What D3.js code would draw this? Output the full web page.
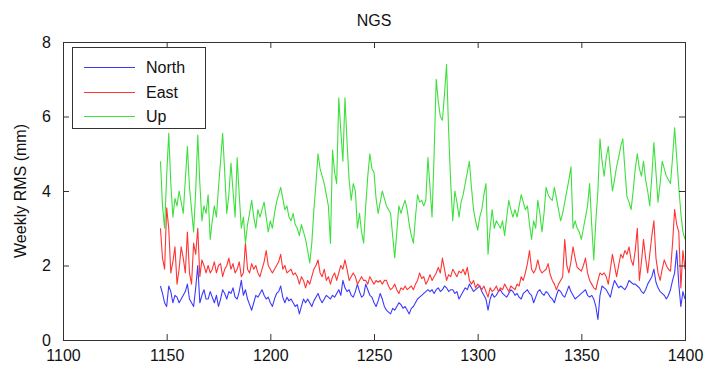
<!DOCTYPE html>
<html>
<head>
<meta charset="utf-8">
<script src="https://cdn.jsdelivr.net/npm/d3@7"></script>
<style>
  body { margin: 0; background: #fff; }
  svg { display: block; font-family: "Liberation Sans", Arial, Helvetica, sans-serif; }
</style>
</head>
<body>
<div id="chart"></div>
<script>
// weekly RMS values, one per GPS week starting at 1147
const weeks = d3.range(1147, 1401);

const north = [
  1.45,1.25,1.0,0.9,1.45,1.3,1.0,1.2,1.15,1.0,   // 1147
  1.1,1.2,1.3,1.5,1.1,1.0,0.9,1.4,2.0,1.0,       // 1157
  1.2,1.35,1.1,1.1,1.3,1.15,1.0,1.2,0.9,1.1,     // 1167
  1.35,1.25,1.1,1.3,1.25,1.4,1.15,1.1,1.3,1.6,   // 1177
  1.2,1.35,1.1,0.95,0.8,1.0,1.2,1.15,1.25,1.35,  // 1187
  1.2,1.1,1.15,1.0,0.9,1.1,1.25,1.3,1.45,1.15,   // 1197
  1.0,1.15,1.05,1.1,1.0,0.9,0.95,0.7,0.9,1.1,    // 1207
  1.0,1.1,1.0,0.9,1.05,1.15,1.25,1.1,1.0,1.1,    // 1217
  1.2,1.15,1.1,1.2,1.15,1.25,1.35,1.2,1.6,1.4,   // 1227
  1.3,1.35,1.2,1.15,1.3,1.5,1.3,1.15,1.2,1.5,    // 1237
  1.35,1.2,1.15,1.0,0.9,1.05,1.25,1.1,0.9,0.8,   // 1247
  0.75,0.7,0.85,0.8,0.9,1.0,0.95,0.85,0.9,0.8,   // 1257
  0.7,0.85,0.9,1.0,1.1,1.15,1.2,1.25,1.3,1.35,   // 1267
  1.3,1.35,1.25,1.35,1.4,1.3,1.35,1.45,1.4,1.3,  // 1277
  1.35,1.35,1.25,1.3,1.1,1.2,1.3,1.4,1.35,1.5,   // 1287
  1.4,1.3,1.35,1.4,1.45,1.3,1.2,1.1,0.8,1.1,     // 1297
  1.25,1.15,1.2,1.3,1.35,1.25,1.2,1.15,1.25,1.35,// 1307
  1.3,1.2,1.25,1.15,1.1,1.25,1.3,1.35,1.25,1.2,  // 1317
  1.0,1.15,1.3,1.35,1.25,1.2,1.3,1.25,1.15,1.1,  // 1327
  1.0,1.2,1.35,1.3,1.2,1.15,1.3,1.45,1.3,1.2,    // 1337
  1.1,1.15,1.2,1.25,1.3,1.35,1.2,1.15,1.2,1.1,   // 1347
  0.9,0.55,1.2,1.45,1.4,1.35,1.25,1.15,1.4,1.6,  // 1357
  1.5,1.4,1.45,1.4,1.35,1.45,1.6,1.55,1.5,1.5,   // 1367
  1.45,1.4,1.3,1.25,1.35,1.5,1.6,1.7,1.9,1.55,   // 1377
  1.4,1.3,1.25,1.2,1.1,1.2,1.35,1.6,1.8,2.4,     // 1387
  1.5,0.9,1.3,1.1                                // 1397
];

const east = [
  3.0,2.2,1.9,3.55,3.0,1.8,2.1,2.5,1.5,1.9,      // 1147
  2.5,2.2,1.8,2.9,1.8,1.5,2.6,2.3,3.0,1.7,       // 1157
  2.15,2.0,1.8,2.0,1.8,1.9,2.1,1.8,2.0,2.05,     // 1167
  1.7,1.9,2.0,2.2,1.9,2.05,1.8,1.9,2.1,1.7,      // 1177
  1.8,2.6,1.9,1.8,2.05,1.9,2.0,1.8,1.7,1.9,      // 1187
  2.1,2.4,2.0,1.9,1.8,1.9,2.0,2.1,2.3,1.9,       // 1197
  2.0,1.8,1.85,1.9,1.75,1.8,1.7,1.5,1.7,1.6,     // 1207
  1.4,1.6,1.5,1.7,1.9,2.0,2.15,1.8,1.7,1.9,      // 1217
  1.6,1.7,1.5,1.7,1.8,1.6,1.8,2.0,1.9,2.15,      // 1227
  1.9,1.6,1.7,1.8,1.7,1.5,1.6,1.7,1.6,1.6,       // 1237
  1.5,1.7,1.6,1.5,1.6,1.55,1.6,1.5,1.6,1.6,      // 1247
  1.45,1.35,1.4,1.5,1.35,1.25,1.4,1.35,1.45,1.35,// 1257
  1.4,1.45,1.35,1.5,1.6,1.8,1.65,1.7,1.5,1.6,    // 1267
  1.75,1.6,1.7,1.8,1.95,1.8,2.2,1.9,1.6,1.75,    // 1277
  1.7,1.9,1.8,1.7,1.85,1.8,1.9,1.75,1.95,1.6,    // 1287
  1.5,1.6,1.4,1.5,1.45,1.35,1.45,1.3,1.15,1.4,   // 1297
  1.3,1.35,1.45,1.3,1.4,1.35,1.5,1.4,1.3,1.45,   // 1307
  1.4,1.35,1.5,1.45,1.7,1.6,1.8,2.05,2.4,1.9,    // 1317
  1.8,1.9,2.15,1.9,1.8,1.85,1.9,2.05,1.75,1.6,   // 1327
  1.5,1.35,1.5,1.6,1.7,2.7,2.0,1.8,2.1,2.5,      // 1337
  2.2,1.95,1.9,1.85,2.0,2.2,1.8,1.6,1.5,1.4,     // 1347
  1.35,1.6,1.8,1.75,1.8,1.7,1.5,1.9,2.3,2.0,     // 1357
  1.7,2.0,2.3,2.2,2.4,2.3,2.5,2.15,2.0,2.4,      // 1367
  3.0,1.6,2.1,2.7,2.2,1.8,2.3,2.8,3.2,2.2,       // 1377
  1.8,1.6,1.9,2.15,2.0,1.9,1.85,2.6,3.5,3.1,     // 1387
  2.9,1.4,2.4,1.9                                // 1397
];

const up = [
  4.8,3.6,3.0,4.4,5.55,4.2,3.3,3.8,3.6,4.0,      // 1147
  3.7,3.4,4.3,5.2,4.1,3.5,2.9,4.0,5.5,4.2,       // 1157
  3.2,3.6,3.4,3.9,2.7,3.2,3.6,3.3,4.1,4.8,       // 1167
  5.55,4.5,3.4,3.9,4.75,4.0,3.3,4.9,3.9,3.0,     // 1177
  3.3,2.6,3.1,3.4,3.75,3.3,3.0,3.5,3.3,3.5,      // 1187
  3.7,3.3,2.9,3.2,3.0,3.4,3.7,3.9,4.1,3.8,       // 1197
  3.5,3.6,3.3,3.2,3.4,3.1,3.0,2.8,3.1,2.9,       // 1207
  2.7,2.4,2.07,2.6,3.5,4.2,5.0,4.6,4.4,4.2,      // 1217
  3.9,3.6,2.6,5.1,4.5,4.2,6.5,5.6,4.8,6.5,       // 1227
  5.3,4.3,3.75,4.2,4.0,3.0,3.4,2.9,2.6,3.6,      // 1237
  4.4,5.0,4.6,4.5,3.8,3.4,3.7,4.0,3.8,3.6,       // 1247
  3.5,3.4,2.8,2.2,2.9,3.6,3.4,3.6,3.75,3.5,      // 1257
  3.1,2.8,2.6,3.3,3.9,3.7,3.75,3.6,3.75,4.9,     // 1267
  4.1,3.3,5.0,7.0,6.4,6.0,5.9,6.6,7.4,5.6,       // 1277
  4.2,3.2,4.0,3.7,3.3,3.7,3.9,4.2,4.5,4.8,       // 1287
  4.1,3.5,3.2,2.95,3.3,3.5,3.9,4.2,2.3,3.0,      // 1297
  3.5,3.0,3.2,3.1,3.0,3.2,2.8,3.3,3.75,3.5,      // 1307
  3.3,3.5,3.3,3.6,3.9,3.7,3.5,3.6,3.1,2.7,       // 1317
  3.2,3.0,3.75,3.4,2.9,3.4,4.1,3.9,3.8,3.75,     // 1327
  4.1,3.8,3.5,3.2,3.4,3.7,4.0,4.3,4.65,3.0,      // 1337
  3.2,3.0,2.9,2.7,3.0,3.3,3.6,4.2,3.1,2.15,      // 1347
  3.2,4.0,5.4,4.8,4.4,4.9,5.2,4.6,4.0,4.3,       // 1357
  4.65,4.9,5.2,5.4,4.6,3.85,3.7,3.5,4.0,4.6,     // 1367
  5.0,4.6,4.4,4.8,4.3,4.0,3.6,4.4,5.3,4.5,       // 1377
  3.7,4.2,4.8,4.6,4.4,4.3,4.2,4.9,5.7,4.9,       // 1387
  4.1,3.4,2.9,2.7                                // 1397
];

const seriesNames = ["North", "East", "Up"];
const seriesColors = ["#3a3aff", "#ff3434", "#3ee03e"];
const xTicks = [1100, 1150, 1200, 1250, 1300, 1350, 1400];
const yTicks = [0, 2, 4, 6, 8];

const width = 711, height = 372;
const margin = { top: 42, right: 26, bottom: 32, left: 63 };
const innerW = width - margin.left - margin.right;
const innerH = height - margin.top - margin.bottom;

const svg = d3.select("#chart").append("svg")
  .attr("width", width)
  .attr("height", height);

const x = d3.scaleLinear().domain([1100, 1400]).range([margin.left, margin.left + innerW]);
const y = d3.scaleLinear().domain([0, 8]).range([margin.top + innerH, margin.top]);

// 线条（先画，坐标框盖在上面）
const plot = svg.append("g");
const line = d3.line().x((d, i) => x(weeks[i])).y(d => y(d));
[north, east, up].forEach((vals, k) => {
  plot.append("path")
    .datum(vals)
    .attr("fill", "none")
    .attr("stroke", seriesColors[k])
    .attr("stroke-width", 1.1)
    .attr("stroke-linejoin", "round")
    .attr("d", line);
});

// MATLAB 风格坐标框，刻度朝内，四边都有
const axisColor = "#333";
const tickLen = 6;
const fontSize = 16;

const gBottom = svg.append("g")
  .attr("transform", `translate(0,${margin.top + innerH})`)
  .call(d3.axisBottom(x).tickValues(xTicks).tickSizeInner(-tickLen).tickSizeOuter(0).tickPadding(10).tickFormat(d3.format("d")));
const gTop = svg.append("g")
  .attr("transform", `translate(0,${margin.top})`)
  .call(d3.axisTop(x).tickValues(xTicks).tickSizeInner(-tickLen).tickSizeOuter(0).tickFormat(""));
const gLeft = svg.append("g")
  .attr("transform", `translate(${margin.left},0)`)
  .call(d3.axisLeft(y).tickValues(yTicks).tickSizeInner(-tickLen).tickSizeOuter(0).tickPadding(12));
const gRight = svg.append("g")
  .attr("transform", `translate(${margin.left + innerW},0)`)
  .call(d3.axisRight(y).tickValues(yTicks).tickSizeInner(-tickLen).tickSizeOuter(0).tickFormat(""));

[gBottom, gTop, gLeft, gRight].forEach(g => {
  g.select(".domain").remove();
  g.selectAll("line").attr("stroke", axisColor);
  g.selectAll("text")
    .attr("fill", "#111")
    .style("font-size", fontSize + "px")
    .style("font-family", "inherit");
});

svg.append("rect")
  .attr("x", margin.left + 0.5)
  .attr("y", margin.top + 0.5)
  .attr("width", innerW)
  .attr("height", innerH)
  .attr("fill", "none")
  .attr("stroke", axisColor)
  .attr("stroke-width", 1);

// 标题 & y 轴标签
svg.append("text")
  .attr("x", margin.left + innerW / 2)
  .attr("y", 26)
  .attr("text-anchor", "middle")
  .attr("fill", "#111")
  .style("font-size", fontSize + "px")
  .text("NGS");

svg.append("text")
  .attr("transform", `translate(26,${margin.top + innerH / 2}) rotate(-90)`)
  .attr("text-anchor", "middle")
  .attr("fill", "#111")
  .style("font-size", fontSize + "px")
  .text("Weekly RMS (mm)");

// 图例
const legend = svg.append("g").attr("transform", "translate(72,47)");
legend.append("rect")
  .attr("x", 0.5).attr("y", 0.5)
  .attr("width", 133).attr("height", 81)
  .attr("fill", "#fff")
  .attr("stroke", axisColor);
seriesNames.forEach((name, i) => {
  const cy = Math.round(20 + i * 24.5) + 0.5; // 半像素对齐，线条更清晰
  legend.append("line")
    .attr("x1", 12).attr("x2", 63)
    .attr("y1", cy).attr("y2", cy)
    .attr("stroke", seriesColors[i])
    .attr("stroke-width", 1.1);
  legend.append("text")
    .attr("x", 74).attr("y", cy)
    .attr("dy", "0.35em")
    .attr("fill", "#111")
    .style("font-size", fontSize + "px")
    .text(name);
});
</script>
</body>
</html>
